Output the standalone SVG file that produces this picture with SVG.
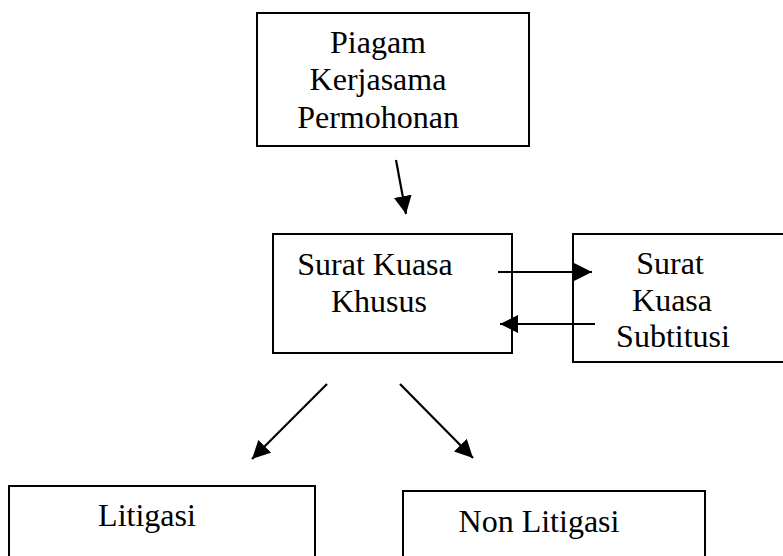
<svg xmlns="http://www.w3.org/2000/svg" width="783" height="556" viewBox="0 0 783 556">
<style>
.box{fill:#fff;stroke:#000;stroke-width:2}
.lbl{font-family:"Liberation Serif","Times New Roman",serif;font-size:32px;fill:#000;text-anchor:middle}
.conn{stroke:#000;stroke-width:2.2;fill:none;marker-end:url(#ah)}
</style>
<defs>
<marker id="ah" markerUnits="userSpaceOnUse" markerWidth="20" markerHeight="18" viewBox="0 0 20 18" refX="18" refY="9" orient="auto">
<path d="M0,0 L18,9 L0,18 Z" fill="#000"/>
</marker>
</defs>
<rect width="783" height="556" fill="#fff"/>
<g id="piagam">
<rect class="box" x="257" y="13" width="272" height="133"/>
<text class="lbl" x="378" y="53">Piagam</text>
<text class="lbl" x="378" y="90">Kerjasama</text>
<text class="lbl" x="378" y="128">Permohonan</text>
</g>
<g id="surat-kuasa-khusus">
<rect class="box" x="273" y="234" width="239" height="119"/>
<text class="lbl" x="375" y="275">Surat Kuasa</text>
<text class="lbl" x="379" y="312">Khusus</text>
</g>
<g id="surat-kuasa-subtitusi">
<rect class="box" x="573" y="234" width="220" height="128"/>
<text class="lbl" x="670" y="274">Surat</text>
<text class="lbl" x="672" y="311">Kuasa</text>
<text class="lbl" x="673" y="347">Subtitusi</text>
</g>
<g id="litigasi">
<rect class="box" x="9" y="486" width="306" height="80"/>
<text class="lbl" x="147" y="526">Litigasi</text>
</g>
<g id="non-litigasi">
<rect class="box" x="403" y="491" width="302" height="80"/>
<text class="lbl" x="539" y="532">Non Litigasi</text>
</g>
<g id="connectors">
<line class="conn" x1="396" y1="160" x2="406" y2="214"/>
<line class="conn" x1="498" y1="272" x2="592" y2="272"/>
<line class="conn" x1="595" y1="324" x2="500" y2="324"/>
<line class="conn" x1="327" y1="384" x2="252" y2="459"/>
<line class="conn" x1="400" y1="384" x2="473" y2="458"/>
</g>
</svg>
